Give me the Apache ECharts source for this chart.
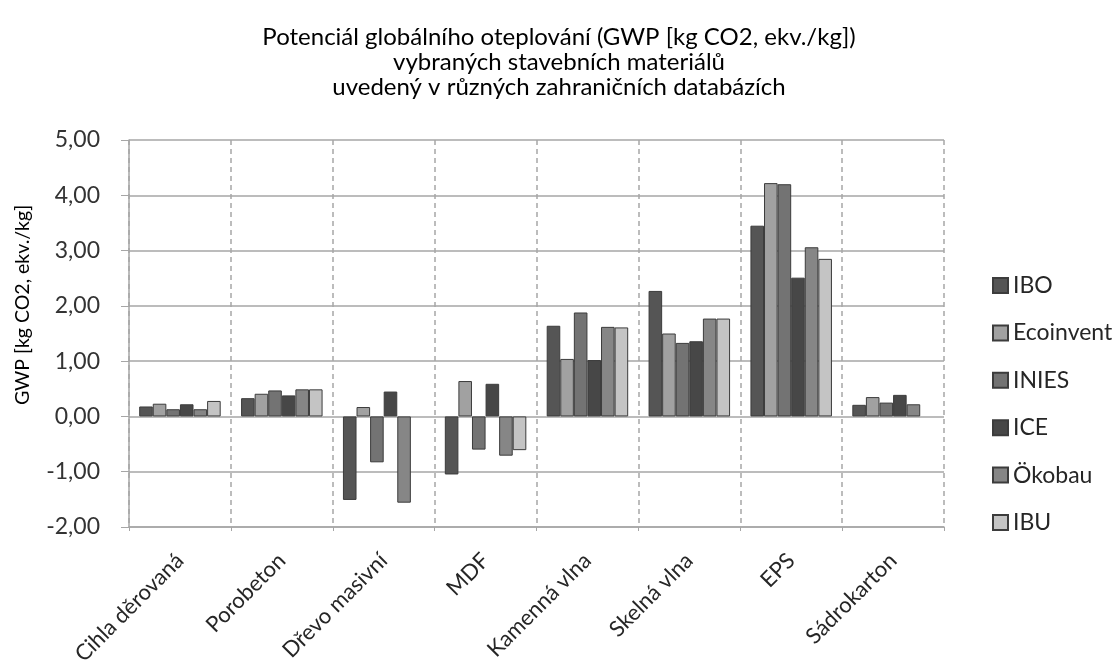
<!DOCTYPE html>
<html>
<head>
<meta charset="utf-8">
<script src="https://cdn.jsdelivr.net/npm/echarts@6/dist/echarts.min.js"></script>
<style>html,body{margin:0;padding:0;background:#fff;}#c{width:1114px;height:668px;}</style>
</head>
<body>
<div id="c"></div>
<script>
const categories = ['Cihla děrovaná','Porobeton','Dřevo masivní','MDF','Kamenná vlna','Skelná vlna','EPS','Sádrokarton'];
const seriesNames = ['IBO','Ecoinvent','INIES','ICE','Ökobau','IBU'];
const IBO       = [0.18, 0.33, -1.51, -1.05, 1.64, 2.27, 3.45, 0.21];
const Ecoinvent = [0.23, 0.41, 0.17, 0.64, 1.04, 1.50, 4.22, 0.35];
const INIES     = [0.13, 0.47, -0.83, -0.60, 1.88, 1.33, 4.20, 0.25];
const ICE       = [0.22, 0.38, 0.45, 0.59, 1.02, 1.36, 2.51, 0.39];
const Okobau    = [0.13, 0.49, -1.56, -0.71, 1.62, 1.77, 3.06, 0.22];
const IBU       = [0.28, 0.49, null, -0.61, 1.61, 1.77, 2.85, null];
const yTicks = [-2, -1, 0, 1, 2, 3, 4, 5];
const titleText = 'Potenciál globálního oteplování (GWP [kg CO2, ekv./kg])\nvybraných stavebních materiálů\nuvedený v různých zahraničních databázích';
const yName = 'GWP [kg CO2, ekv./kg]';

const values = [IBO, Ecoinvent, INIES, ICE, Okobau, IBU];
const colors = ['#555555','#a1a1a1','#737373','#474747','#868686','#c4c4c4'];
const FONT = 'Lato';

const chart = echarts.init(document.getElementById('c'));
chart.setOption({
  animation: false,
  textStyle: { fontFamily: FONT },
  title: {
    text: titleText,
    left: 559, top: 25, textAlign: 'center', padding: 0,
    textStyle: { fontFamily: FONT, fontSize: 24, fontWeight: 'normal', color: '#000', lineHeight: 25 }
  },
  graphic: [{
    type: 'text', x: 23, y: 305, rotation: Math.PI / 2,
    style: { text: yName, fontFamily: FONT, fontSize: 19.5, fill: '#000', align: 'center', verticalAlign: 'middle' }
  }],
  legend: {
    orient: 'vertical', left: 987, top: 269,
    icon: 'rect', itemWidth: 15, itemHeight: 15, itemGap: 24.4,
    data: seriesNames,
    textStyle: { fontFamily: FONT, fontSize: 23, color: '#262626' }
  },
  grid: { left: 129, right: 170, top: 140, bottom: 141, containLabel: false },
  xAxis: {
    type: 'category', data: categories,
    axisLine: { onZero: false, lineStyle: { color: '#a6a6a6', width: 1.5 } },
    axisTick: { show: true, length: 4, lineStyle: { color: '#a6a6a6' } },
    splitLine: { show: true, lineStyle: { color: '#a6a6a6', type: [5, 4], width: 1.5 } },
    axisLabel: { rotate: 45, fontSize: 22, color: '#262626', margin: 30, fontFamily: FONT, interval: 0 }
  },
  yAxis: {
    type: 'value', min: -2, max: 5, interval: 1,
    axisLine: { show: true, lineStyle: { color: '#a6a6a6', width: 1.5 } },
    axisTick: { show: true, inside: false, length: 8, lineStyle: { color: '#a6a6a6' } },
    splitLine: { show: true, lineStyle: { color: '#a6a6a6', width: 1.5 } },
    axisLabel: {
      fontSize: 23, color: '#333', margin: 29, fontFamily: FONT,
      formatter: v => yTicks.includes(v) ? v.toFixed(2).replace('.', ',') : ''
    }
  },
  series: seriesNames.map((n, i) => ({
    name: n, type: 'bar', data: values[i],
    barGap: '0%', barCategoryGap: '20%',
    itemStyle: { color: colors[i], borderColor: '#3c3c3c', borderWidth: 1 }
  }))
});
</script>
</body>
</html>
